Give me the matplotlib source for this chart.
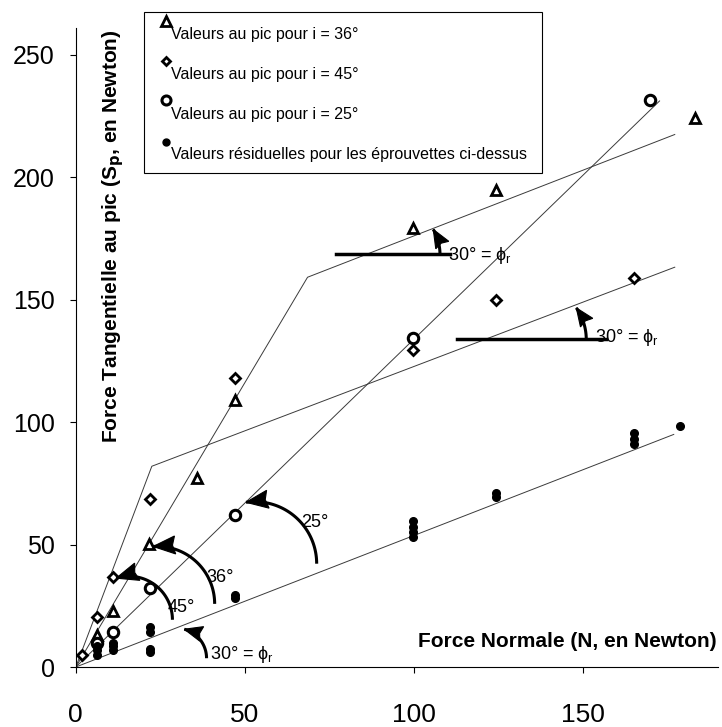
import numpy as np
import matplotlib
matplotlib.use("Agg")
import matplotlib.pyplot as plt
from matplotlib.patches import Rectangle, Polygon
from matplotlib.lines import Line2D

plt.rcParams["font.family"] = ["Liberation Sans", "DejaVu Sans"]

# peak values, i = 36 deg (triangles)
tri_x = [6.3, 10.9, 21.8, 35.9, 47.2, 99.7, 124.5, 183.2]
tri_y = [13.1, 22.9, 50.1, 77.3, 109.2, 179.2, 195.0, 224.3]
# peak values, i = 45 deg (diamonds)
dia_x = [1.8, 6.3, 10.9, 22.0, 47.2, 99.7, 124.5, 165.3]
dia_y = [5.0, 20.6, 36.6, 68.5, 118.2, 129.5, 150.0, 158.8]
# peak values, i = 25 deg (circles)
circ_x = [6.3, 10.9, 22.0, 47.2, 99.7, 170.0]
circ_y = [10.0, 14.5, 32.3, 62.0, 134.4, 231.4]
# residual values
res_x = [6.3, 6.3, 6.3, 10.9, 10.9, 10.9, 22.0, 22.0, 22.0, 22.0, 47.2, 47.2,
         99.7, 99.7, 99.7, 99.7, 124.5, 124.5, 165.3, 165.3, 165.3, 178.8]
res_y = [5.0, 7.0, 8.5, 7.0, 8.5, 10.0, 6.0, 7.5, 14.5, 16.5, 28.0, 29.5,
         53.0, 55.0, 57.0, 59.5, 69.5, 71.0, 91.0, 93.0, 95.5, 98.3]

# envelope / fit lines
env36_x = [0, 68.6, 177.3]
env36_y = [0, 159.2, 217.5]
env45_x = [0, 22.5, 177.3]
env45_y = [0, 82.0, 163.3]
fit25_x = [0, 172.8]
fit25_y = [0, 231.2]
fitres_x = [0, 177.0]
fitres_y = [0, 95.0]

legend_labels = ["Valeurs au pic pour i = 36°", "Valeurs au pic pour i = 45°",
                 "Valeurs au pic pour i = 25°",
                 "Valeurs résiduelles pour les éprouvettes ci-dessus"]

fig = plt.figure(figsize=(7.22, 7.27), dpi=100)
ax = fig.add_axes([0.105, 0.0825, 0.889, 0.879])
ax.set_xlim(0, 190)
ax.set_ylim(0, 261)

lw = 0.7
lc = "#3a3a3a"
ax.plot(env36_x, env36_y, color=lc, lw=lw)
ax.plot(env45_x, env45_y, color=lc, lw=lw)
ax.plot(fit25_x, fit25_y, color=lc, lw=lw)
ax.plot(fitres_x, fitres_y, color=lc, lw=lw)

ax.plot(tri_x, tri_y, ls="none", marker="^", ms=7, mfc="white", mec="black", mew=2)
ax.plot(dia_x, dia_y, ls="none", marker="D", ms=5, mfc="white", mec="black", mew=2)
ax.plot(circ_x, circ_y, ls="none", marker="o", ms=7.5, mfc="white", mec="black", mew=2.2)
ax.plot(res_x, res_y, ls="none", marker="o", ms=5.5, color="black")


# curved angle arrows: arc drawn in pixel space, starting with a vertical tangent
def curved(start, r, sweep, hl=22, hw=9):
    to_px = ax.transData
    to_data = ax.transData.inverted()
    sx, sy = to_px.transform(start)
    cx, cy = sx - r, sy
    t = np.radians(np.linspace(0, sweep, 60))
    pts = np.column_stack([cx + r * np.cos(t), cy + r * np.sin(t)])
    d = to_data.transform(pts)
    ax.plot(d[:, 0], d[:, 1], color="black", lw=2.2, solid_capstyle="butt")
    te = t[-1]
    tip = pts[-1]
    u = np.array([-np.sin(te), np.cos(te)])
    n = np.array([-u[1], u[0]])
    base = tip - hl * u
    head = np.array([tip, base + hw * n, tip - 0.88 * hl * u, base - hw * n])
    ax.add_patch(Polygon(to_data.transform(head), closed=True, facecolor="black",
                         edgecolor="black", lw=0.8, zorder=4))


curved((71.3, 42.2), 62, 98)
curved((41.1, 25.8), 57.5, 94)
curved((28.6, 19.3), 43.5, 107)
curved((38.7, 3.6), 30, 75, 18, 7.5)
curved((107.8, 168.5), 50, 30, 18, 7.5)
curved((151.1, 133.8), 55, 35, 18, 7.5)

ax.plot([76.9, 110.7], [168.5, 168.5], color="black", lw=2.5)
ax.plot([112.8, 157.0], [133.8, 133.8], color="black", lw=2.5)

tfs = 13
ax.text(70.7, 59.0, "25°", fontsize=tfs, ha="center", va="center")
ax.text(42.6, 36.7, "36°", fontsize=tfs, ha="center", va="center")
ax.text(31.3, 24.5, "45°", fontsize=tfs, ha="center", va="center")
phi = "30° = ϕ$_\\mathregular{r}$"
ax.text(39.6, 5.0, phi, fontsize=tfs, ha="left", va="center")
ax.text(110.2, 168.0, phi, fontsize=tfs, ha="left", va="center")
ax.text(153.8, 134.5, phi, fontsize=tfs, ha="left", va="center")

ax.set_xticks([0, 50, 100, 150])
ax.set_yticks([0, 50, 100, 150, 200, 250])
ax.spines["top"].set_visible(False)
ax.spines["right"].set_visible(False)
ax.spines["left"].set_linewidth(0.8)
ax.spines["bottom"].set_linewidth(0.8)
ax.tick_params(axis="both", labelsize=18, length=4, width=0.8)
ax.tick_params(axis="x", pad=22, labelsize=19)
ax.tick_params(axis="y", pad=11)

ax.text(0.058, 0.998, "Force Tangentielle au pic (S$_\\mathbf{p}$, en Newton)",
        transform=ax.transAxes, rotation=90, ha="center", va="top",
        fontsize=15, fontweight="bold")
ax.text(0.998, 0.04, "Force Normale (N, en Newton)", transform=ax.transAxes,
        ha="right", va="center", fontsize=15, fontweight="bold")

# legend box drawn by hand (markers above the text)
fig.patches.append(Rectangle((0.200, 0.762), 0.551, 0.222, transform=fig.transFigure,
                             fill=True, facecolor="white", edgecolor="black", lw=0.8,
                             zorder=5))
W, H = 722.0, 727.0
mk = [dict(marker="^", ms=6.5, mfc="white", mec="black", mew=2),
      dict(marker="D", ms=4.5, mfc="white", mec="black", mew=2),
      dict(marker="o", ms=6.5, mfc="white", mec="black", mew=2.2),
      dict(marker="o", ms=5, mfc="black", mec="black")]
mky = [20.7, 60.7, 100.0, 141.7]
txy = [34.0, 75.0, 115.0, 155.0]
for m, my, ty, lab in zip(mk, mky, txy, legend_labels):
    fig.add_artist(Line2D([166 / W], [1 - my / H], transform=fig.transFigure,
                          ls="none", zorder=6, **m))
    fig.text(171 / W, 1 - ty / H, lab, fontsize=11.5, ha="left", va="center", zorder=6)

fig.savefig("out.png", dpi=100)
